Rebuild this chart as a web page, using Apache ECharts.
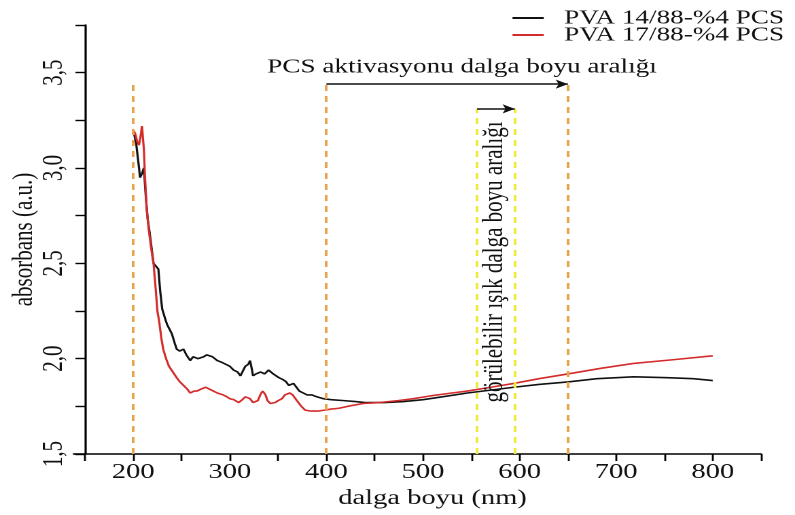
<!DOCTYPE html>
<html>
<head>
<meta charset="utf-8">
<script src="https://cdn.jsdelivr.net/npm/echarts@6/dist/echarts.min.js"></script>
<style>
html,body{margin:0;padding:0;background:#fff;overflow:hidden;width:795px;height:515px;}
#c{width:585px;height:515px;transform:scaleX(1.359);transform-origin:0 0;}
</style>
</head>
<body>
<div id="c"></div>
<script>
// ---- data ----
const seriesNames = ['PVA 14/88-%4 PCS', 'PVA 17/88-%4 PCS'];
const blackX = [200,203,206,207,209,211,213,215,217,218,220,221,223,226,228,230,233,235,238,240,243,245,248,250,252,255,259,262,264,267,269,273,276,278,282,287,292,296,300,304,308,311,313,316,319,321,323,324,327,332,336,340,342,345,347,351,355,358,361,363,366,368,372,376,380,385,390,397,405,418,430,440,460,480,500,520,546,570,594,620,650,680,718,753,780,800];
const blackY = [3.20,3.13,3.00,2.95,2.97,3.00,2.85,2.73,2.66,2.62,2.54,2.50,2.50,2.47,2.35,2.26,2.21,2.18,2.15,2.13,2.08,2.05,2.04,2.04,2.05,2.02,1.99,2.01,2.02,2.00,2.00,2.01,2.02,2.03,2.01,1.99,1.98,1.97,1.96,1.94,1.93,1.91,1.93,1.96,1.97,1.99,1.94,1.91,1.92,1.93,1.92,1.94,1.94,1.92,1.91,1.90,1.89,1.88,1.86,1.85,1.87,1.86,1.83,1.82,1.81,1.81,1.80,1.79,1.785,1.78,1.775,1.77,1.77,1.775,1.785,1.80,1.82,1.835,1.85,1.865,1.878,1.895,1.905,1.90,1.895,1.885];
const redX = [200,202,204,206,208,209,210,211,212,214,216,218,220,221,223,225,227,229,231,234,237,241,245,248,252,256,259,263,266,270,275,279,283,287,290,293,297,300,304,309,313,316,318,321,324,326,329,332,334,337,339,342,344,347,350,354,357,359,362,365,368,370,374,378,384,391,398,404,413,422,438,455,474,490,508,530,546,570,594,620,650,685,718,760,800];
const redY = [3.20,3.18,3.14,3.12,3.18,3.22,3.21,3.10,2.97,2.78,2.68,2.60,2.53,2.50,2.38,2.25,2.19,2.11,2.05,2.00,1.96,1.93,1.90,1.88,1.86,1.84,1.82,1.83,1.83,1.84,1.85,1.84,1.83,1.82,1.815,1.81,1.80,1.79,1.785,1.77,1.785,1.80,1.81,1.79,1.77,1.76,1.78,1.815,1.83,1.81,1.78,1.765,1.76,1.77,1.78,1.79,1.81,1.82,1.82,1.81,1.79,1.78,1.75,1.73,1.725,1.725,1.73,1.735,1.74,1.75,1.765,1.77,1.78,1.79,1.805,1.82,1.83,1.85,1.87,1.895,1.92,1.95,1.975,1.995,2.015];
// annotation ranges (nm)
const pcsRange = [400, 650];
const visibleRange = [556, 595];
const startLine = 200;
const pcsLevel = 3.44, visLevel = 3.31, yMin = 1.5;
const pcsText = 'PCS aktivasyonu dalga boyu aralığı';
const visText = 'görülebilir ışık dalga boyu aralığı';

const zip = (xs, ys) => xs.map((x, i) => [x, ys[i]]);
const FONT = '"Liberation Serif", "Times New Roman", serif';
const ORANGE = '#E9A54C', YELLOW = '#EFEB3E';

const chart = echarts.init(document.getElementById('c'), null, {devicePixelRatio: 2});
const vLine = (x, top, color) => [{coord: [x, yMin], lineStyle: {color: color}}, {coord: [x, top]}];

chart.setOption({
  animation: false,
  backgroundColor: '#fff',
  grid: {left: 62.5, right: 25, top: 25, bottom: 61, containLabel: false, outerBoundsMode: 'none'},
  legend: {
    data: seriesNames, orient: 'vertical', right: 3, top: 3,
    icon: 'rect', itemWidth: 23, itemHeight: 2, itemGap: -3,
    textStyle: {fontFamily: FONT, fontSize: 20, color: '#111', lineHeight: 18, padding: [0,0,0,10]}
  },
  xAxis: {
    type: 'value', min: 150, max: 850, interval: 50,
    name: 'dalga boyu (nm)', nameLocation: 'middle', nameGap: 30,
    nameTextStyle: {fontFamily: FONT, fontSize: 21, color: '#111', padding: [0,0,0,14]},
    axisLine: {show: true, onZero: false, lineStyle: {color: '#000', width: 1.6}},
    axisTick: {show: true, inside: false, length: 7, lineStyle: {color: '#000', width: 1.4}},
    axisLabel: {fontFamily: FONT, fontSize: 21, color: '#111', margin: 8,
      formatter: v => (v % 100 === 0 ? String(v) : '')},
    splitLine: {show: false}
  },
  yAxis: {
    type: 'value', min: 1.5, max: 3.75, interval: 0.25,
    name: 'absorbans (a.u.)', nameLocation: 'middle', nameGap: 34, nameMoveOverlap: false,
    nameTextStyle: {fontFamily: FONT, fontSize: 21, color: '#111'},
    axisLine: {show: true, onZero: false, lineStyle: {color: '#000', width: 1.6}},
    axisTick: {show: true, inside: false, length: 7, lineStyle: {color: '#000', width: 1.4}},
    axisLabel: {fontFamily: FONT, fontSize: 21, color: '#111', margin: 12, rotate: 90,
      formatter: v => (Math.abs(v * 2 - Math.round(v * 2)) < 1e-6 ? v.toFixed(1).replace('.', ',') : '')},
    splitLine: {show: false}
  },
  series: [
    {
      name: 'guides', type: 'line', data: [], silent: true, z: 1,
      markLine: {
        silent: true, symbol: 'none', label: {show: false}, animation: false,
        lineStyle: {type: [6, 5], width: 2},
        data: [
          vLine(startLine, pcsLevel, ORANGE),
          vLine(pcsRange[0], pcsLevel, ORANGE),
          vLine(pcsRange[1], pcsLevel, ORANGE),
          vLine(visibleRange[0], visLevel, YELLOW),
          vLine(visibleRange[1], visLevel, YELLOW)
        ]
      }
    },
    {
      name: seriesNames[0], type: 'line', data: zip(blackX, blackY), symbol: 'none', z: 3,
      lineStyle: {color: '#111', width: 1.6}, itemStyle: {color: '#111'}
    },
    {
      name: seriesNames[1], type: 'line', data: zip(redX, redY), symbol: 'none', z: 4,
      lineStyle: {color: '#d42b2b', width: 1.6}, itemStyle: {color: '#d42b2b'}
    },
    {
      name: 'arrows', type: 'line', data: [], silent: true, z: 5,
      markLine: {
        silent: true, symbol: ['none', 'arrow'], symbolSize: [7, 9], label: {show: false}, animation: false,
        lineStyle: {type: 'solid', width: 1.6, color: '#111'},
        data: [
          [{coord: [pcsRange[0], pcsLevel]}, {coord: [pcsRange[1], pcsLevel]}],
          [{coord: [visibleRange[0], visLevel]}, {coord: [visibleRange[1], visLevel]}]
        ]
      }
    }
  ],
  graphic: [
    {type: 'text', x: 340, y: 67, z: 10,
      style: {text: pcsText, font: '20px ' + FONT, fill: '#111', align: 'center', verticalAlign: 'middle'}},
    {type: 'text', x: 364, y: 262, rotation: Math.PI / 2, z: 10,
      style: {text: visText, font: '21px ' + FONT, fill: '#111', align: 'center', verticalAlign: 'middle'}},
    {type: 'line', z: 10, shape: {x1: 53.7, y1: 454, x2: 62.5, y2: 454}, style: {stroke: '#000', lineWidth: 1.6}}
  ]
});
</script>
</body>
</html>
